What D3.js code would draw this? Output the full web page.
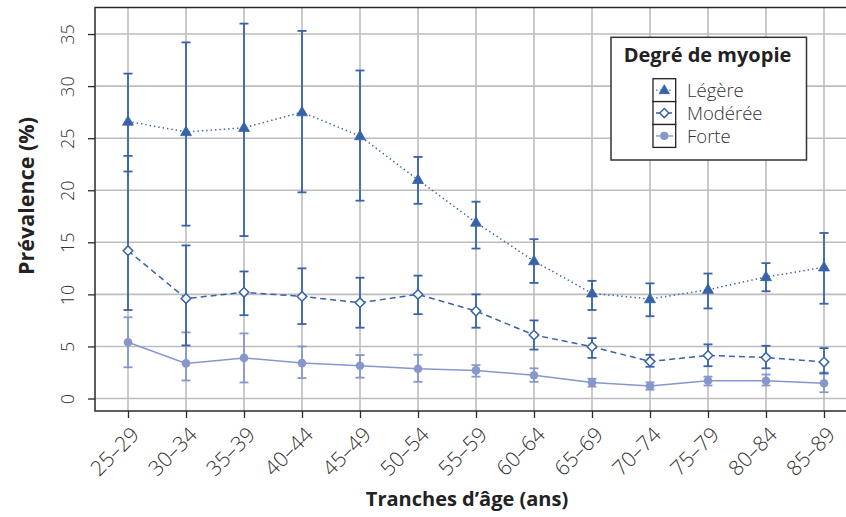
<!DOCTYPE html>
<html>
<head>
<meta charset="utf-8">
<script src="https://cdn.jsdelivr.net/npm/d3@7"></script>
<style>
  html, body { margin: 0; padding: 0; background: #fff; }
  svg { display: block; }
  text { font-family: "Open Sans", "Noto Sans", sans-serif; fill: #222; }
</style>
</head>
<body>
<svg id="chart" width="846" height="517"></svg>
<script>
// ---------- data ----------
const categories = ["25–29","30–34","35–39","40–44","45–49","50–54","55–59","60–64","65–69","70–74","75–79","80–84","85–89"];
const yTicks = [0, 5, 10, 15, 20, 25, 30, 35];

const legere     = [26.6, 25.6, 26.0, 27.5, 25.2, 21.0, 16.9, 13.2, 10.1, 9.55, 10.45, 11.67, 12.6];
const legereLow  = [21.8, 16.6, 15.6, 19.8, 19.0, 18.7, 14.4, 11.1, 8.5, 7.9, 8.65, 10.3, 9.1];
const legereHigh = [31.2, 34.2, 36.0, 35.3, 31.5, 23.2, 18.9, 15.3, 11.3, 11.06, 12.0, 13.0, 15.9];

const moderee     = [14.2, 9.6, 10.2, 9.8, 9.2, 10.0, 8.4, 6.1, 4.97, 3.56, 4.13, 3.94, 3.5];
const modereeLow  = [8.5, 5.1, 8.0, 7.15, 6.8, 8.1, 6.8, 4.7, 3.9, 3.05, 3.1, 2.9, 2.4];
const modereeHigh = [23.3, 14.7, 12.2, 12.5, 11.6, 11.8, 10.0, 7.5, 5.8, 4.2, 5.2, 5.06, 4.84];

const forte     = [5.4, 3.37, 3.9, 3.4, 3.14, 2.85, 2.7, 2.24, 1.54, 1.2, 1.7, 1.7, 1.47];
const forteLow  = [3.0, 1.73, 1.54, 1.96, 2.0, 1.6, 2.1, 1.6, 1.15, 0.85, 1.25, 1.25, 0.6];
const forteHigh = [7.8, 6.35, 6.25, 5.0, 4.17, 4.2, 3.2, 2.9, 1.9, 1.55, 2.1, 2.3, 2.5];

const seriesNames = ["Légère", "Modérée", "Forte"];
const legendTitle = "Degré de myopie";
const xTitle = "Tranches d’âge (ans)";
const yTitle = "Prévalence (%)";

// ---------- layout ----------
const svg = d3.select("#chart");
const W = 846, H = 517;
const plot = { left: 95, top: 7.5, right: 857, bottom: 411 };
const darkBlue = "#3863a9";
const lightBlue = "#8797cc";

const x = d3.scalePoint().domain(categories).range([plot.left, plot.right]).padding(0.569);
const y = d3.scaleLinear().domain([-1.2, 37.55]).range([plot.bottom, plot.top]);

svg.append("rect").attr("width", W).attr("height", H).attr("fill", "#fff");

// gridlines
const grid = svg.append("g");
grid.selectAll(".hg").data(yTicks).join("line")
  .attr("x1", plot.left).attr("x2", plot.right)
  .attr("y1", d => y(d)).attr("y2", d => y(d))
  .attr("stroke", "#bdbdbd").attr("stroke-width", 1.6);
grid.selectAll(".vg").data(categories).join("line")
  .attr("x1", d => x(d)).attr("x2", d => x(d))
  .attr("y1", plot.top).attr("y2", plot.bottom)
  .attr("stroke", "#bdbdbd").attr("stroke-width", 1.6);

// frame
svg.append("rect")
  .attr("x", plot.left).attr("y", plot.top)
  .attr("width", plot.right - plot.left).attr("height", plot.bottom - plot.top)
  .attr("fill", "none").attr("stroke", "#2a2a2a").attr("stroke-width", 1.5);

// y axis
const yAxis = d3.axisLeft(y).tickValues(yTicks).tickSize(7).tickPadding(0).tickFormat(d3.format("d"));
const gy = svg.append("g").attr("transform", `translate(${plot.left},0)`).call(yAxis);
gy.select(".domain").remove();
gy.selectAll(".tick line").attr("stroke", "#2a2a2a").attr("stroke-width", 1.3);
gy.selectAll(".tick text")
  .attr("x", null).attr("dy", null)
  .attr("transform", "translate(-21.5,0) rotate(-90)")
  .attr("text-anchor", "middle")
  .style("font-size", "18px").style("font-weight", 300).style("fill", "#333");

// x axis
const xAxis = d3.axisBottom(x).tickSize(7).tickPadding(0);
const gx = svg.append("g").attr("transform", `translate(0,${plot.bottom})`).call(xAxis);
gx.select(".domain").remove();
gx.selectAll(".tick line").attr("stroke", "#2a2a2a").attr("stroke-width", 1.3);
gx.selectAll(".tick text")
  .attr("y", null).attr("dy", null)
  .attr("transform", "translate(12,25) rotate(-45)")
  .attr("text-anchor", "end")
  .style("font-size", "21px").style("font-weight", 300).style("fill", "#333");

// axis titles
svg.append("text")
  .attr("x", 467).attr("y", 506)
  .attr("text-anchor", "middle")
  .style("font-size", "20px").style("font-weight", 700).style("fill", "#222")
  .text(xTitle);
svg.append("text")
  .attr("transform", `translate(34,196) rotate(-90)`)
  .attr("text-anchor", "middle")
  .style("font-size", "21.5px").style("font-weight", 700).style("fill", "#222")
  .text(yTitle);

// ---------- series ----------
const series = [
  { name: seriesNames[2], vals: forte, lo: forteLow, hi: forteHigh, color: lightBlue, dash: null, marker: "circle" },
  { name: seriesNames[1], vals: moderee, lo: modereeLow, hi: modereeHigh, color: darkBlue, dash: "6,4", marker: "diamond" },
  { name: seriesNames[0], vals: legere, lo: legereLow, hi: legereHigh, color: darkBlue, dash: "1.4,3", marker: "triangle" }
];

function drawMarker(g, type, color, scale) {
  scale = scale || 1;
  if (type === "triangle") {
    g.append("path").attr("d", d3.symbol().type(d3.symbolTriangle).size(52 * scale * scale)())
      .attr("transform", "translate(0,0.5)")
      .attr("fill", color).attr("stroke", color).attr("stroke-width", 0.8);
  } else if (type === "diamond") {
    g.append("path").attr("d", d3.symbol().type(d3.symbolSquare).size(46 * scale * scale)())
      .attr("transform", "rotate(45)")
      .attr("fill", "#fff").attr("stroke", color).attr("stroke-width", 1.5);
  } else {
    g.append("circle").attr("r", 4.3 * scale).attr("fill", color);
  }
}

const lineGen = d3.line().x(d => x(d.c)).y(d => y(d.v));

series.forEach(s => {
  const g = svg.append("g");
  const pts = categories.map((c, i) => ({ c, v: s.vals[i], lo: s.lo[i], hi: s.hi[i] }));
  // error bars
  const eb = g.append("g").attr("stroke", s.color).attr("stroke-width", 1.8);
  pts.forEach(p => {
    const cx = x(p.c);
    eb.append("line").attr("x1", cx).attr("x2", cx).attr("y1", y(p.lo)).attr("y2", y(p.hi));
    eb.append("line").attr("x1", cx - 4.5).attr("x2", cx + 4.5).attr("y1", y(p.lo)).attr("y2", y(p.lo));
    eb.append("line").attr("x1", cx - 4.5).attr("x2", cx + 4.5).attr("y1", y(p.hi)).attr("y2", y(p.hi));
  });
  // line
  g.append("path").datum(pts).attr("d", lineGen)
    .attr("fill", "none").attr("stroke", s.color).attr("stroke-width", 1.5)
    .attr("stroke-dasharray", s.dash);
  // markers
  pts.forEach(p => {
    const mg = g.append("g").attr("transform", `translate(${x(p.c)},${y(p.v)})`);
    drawMarker(mg, s.marker, s.color);
  });
});

// ---------- legend ----------
const lg = svg.append("g");
lg.append("rect").attr("x", 611).attr("y", 37.3).attr("width", 195.5).attr("height", 122.7)
  .attr("fill", "#fff").attr("stroke", "#333").attr("stroke-width", 1.5);
lg.append("text").attr("x", 707.5).attr("y", 62).attr("text-anchor", "middle")
  .style("font-size", "20px").style("font-weight", 700).style("fill", "#222")
  .text(legendTitle);
const legendItems = [series[2], series[1], series[0]];
const rowTop = 78.7, rowH = 22.9;
legendItems.forEach((s, i) => {
  const ty = rowTop + i * rowH;
  lg.append("rect").attr("x", 653).attr("y", ty).attr("width", 22.7).attr("height", rowH)
    .attr("fill", "#fff").attr("stroke", "#222").attr("stroke-width", 1.3);
  const cy = ty + rowH / 2;
  lg.append("line").attr("x1", 656).attr("x2", 673).attr("y1", cy).attr("y2", cy)
    .attr("stroke", s.color).attr("stroke-width", 1.4).attr("stroke-dasharray", s.dash);
  const mg = lg.append("g").attr("transform", `translate(664.3,${cy})`);
  drawMarker(mg, s.marker, s.color, 0.95);
  lg.append("text").attr("x", 687).attr("y", ty + rowH - 4.5)
    .style("font-size", "18.5px").style("font-weight", 300).style("fill", "#333")
    .text(s.name);
});
</script>
</body>
</html>
